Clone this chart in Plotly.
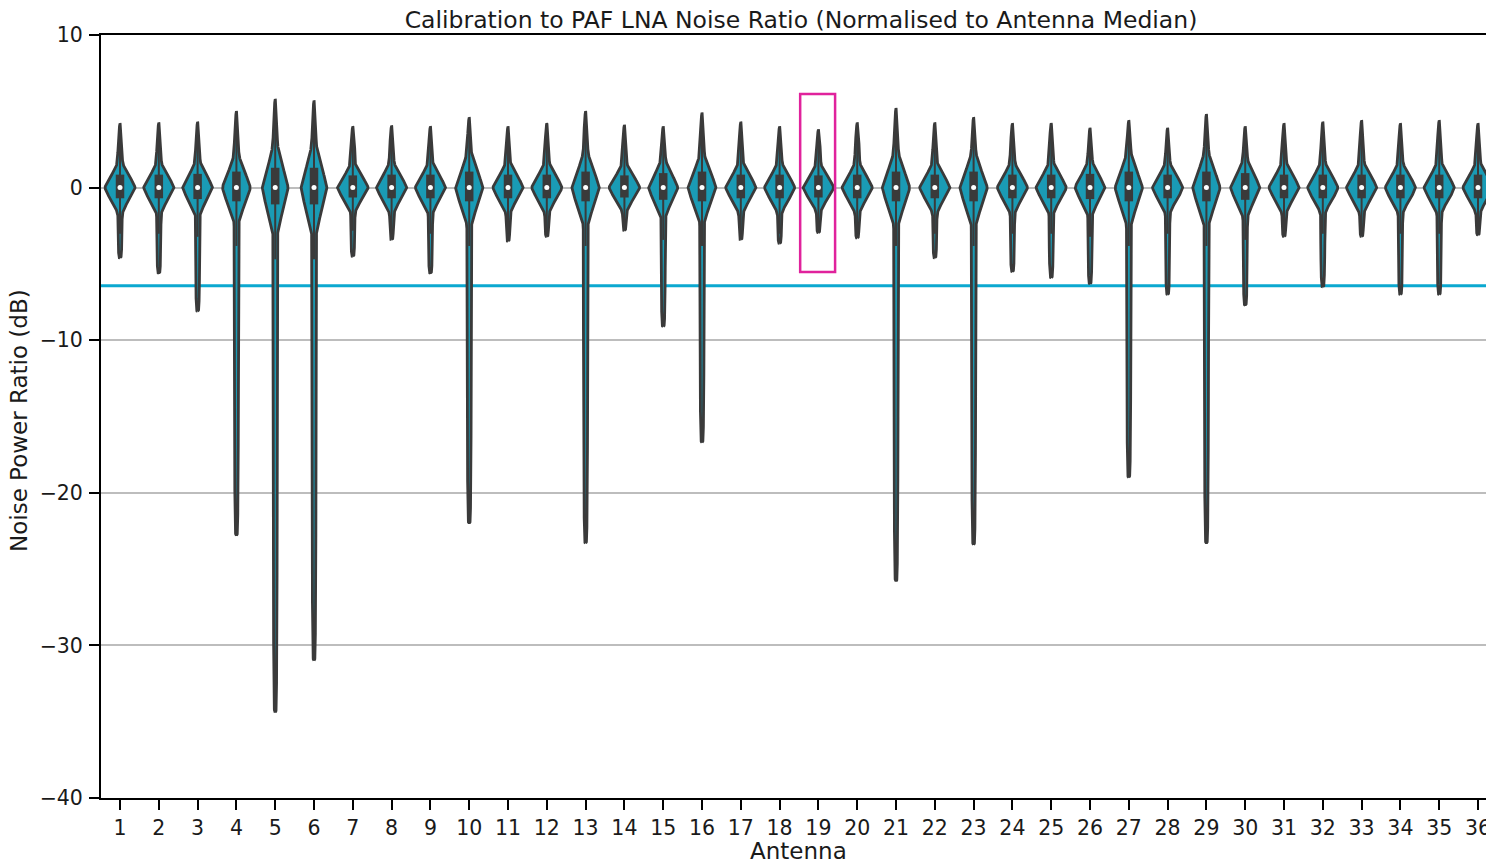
import numpy as np
import plotly.graph_objects as go

# ---------------- data ----------------
antennas = list(range(1, 37))
tick_labels = [str(a) for a in antennas]

# extent of each violin (max / min noise power ratio, dB)
upper = [4.2, 4.25, 4.3, 5.0, 5.8, 5.7, 4.0, 4.05, 4.0, 4.6, 4.0, 4.2,
         5.0, 4.1, 4.0, 4.9, 4.3, 4.0, 3.8, 4.25, 5.2, 4.25, 4.6, 4.2,
         4.2, 3.9, 4.4, 3.9, 4.8, 4.0, 4.2, 4.3, 4.4, 4.2, 4.4, 4.2]
lower = [-4.6, -5.6, -8.1, -22.8, -34.4, -31.0, -4.5, -3.4, -5.6, -22.0, -3.5, -3.2,
         -23.3, -2.8, -9.1, -16.7, -3.4, -3.65, -2.95, -3.3, -25.8, -4.6, -23.4, -5.5,
         -5.9, -6.3, -19.0, -7.0, -23.3, -7.7, -3.2, -6.5, -3.2, -7.0, -7.0, -3.1]
median = [0.0] * 36
q1 = [-0.7, -0.7, -0.75, -0.9, -1.1, -1.1, -0.65, -0.7, -0.7, -0.9, -0.7, -0.7,
      -0.9, -0.65, -0.8, -0.9, -0.7, -0.7, -0.65, -0.7, -0.9, -0.7, -0.9, -0.7,
      -0.7, -0.75, -0.9, -0.7, -0.9, -0.8, -0.7, -0.7, -0.7, -0.7, -0.7, -0.7]
q3 = [0.85, 0.85, 0.9, 1.05, 1.3, 1.3, 0.8, 0.85, 0.85, 1.05, 0.85, 0.85,
      1.05, 0.8, 0.95, 1.05, 0.85, 0.85, 0.8, 0.85, 1.05, 0.85, 1.05, 0.85,
      0.85, 0.9, 1.05, 0.85, 1.05, 0.95, 0.85, 0.85, 0.85, 0.85, 0.85, 0.85]
# width of the central body of each distribution (dB)
spread = [0.92, 0.92, 0.97, 1.25, 1.7, 1.7, 0.87, 0.92, 0.92, 1.35, 0.92, 0.92,
          1.35, 0.87, 1.05, 1.25, 0.92, 0.92, 0.87, 0.92, 1.35, 0.92, 1.35, 0.92,
          0.92, 0.97, 1.35, 0.92, 1.35, 1.05, 0.92, 0.92, 0.92, 0.92, 0.92, 0.92]

threshold_db = -6.43
highlight = 19

# ---------------- styling ----------------
FILL = "#1a9bb5"
EDGE = "#3a3a3a"
FONT = "DejaVu Sans"


def violin_outline(pos, hi, lo, med, s):
    y = np.concatenate([np.linspace(lo, med, 600), np.linspace(med, hi, 300)[1:]])
    d = y - med
    amp = 0.30 * (0.92 / s) ** 0.35
    r_up = 1.4 * s / 0.92
    r_lo = 0.9 * s / 0.92
    core = amp * np.exp(-0.5 * (d / s) ** 2) + 0.09 * np.exp(-np.abs(d) / np.where(d > 0, r_up, r_lo))
    floor = np.where(d > 0, 0.09, 0.062)
    w = np.maximum(core, floor)
    taper = np.where(
        d > 0,
        np.clip(1 - d / (hi - med), 0, 1) ** 0.6,
        np.clip(1 - d / (lo - med), 0, 1) ** 0.2,
    )
    w = w * taper
    xs = np.concatenate([pos + w, (pos - w)[::-1]])
    ys = np.concatenate([y, y[::-1]])
    return xs, ys


vx, vy = [], []
bx, by = [], []
wx, wy = [], []
for a, hi, lo, m, s, a1, a3 in zip(antennas, upper, lower, median, spread, q1, q3):
    xs, ys = violin_outline(a, hi, lo, m, s)
    vx += list(xs) + [None]
    vy += list(ys) + [None]
    bx += [a, a, None]
    by += [a1, a3, None]
    iqr = a3 - a1
    wx += [a, a, None]
    wy += [max(lo, a1 - 1.5 * iqr), min(hi, a3 + 1.5 * iqr), None]

fig = go.Figure()
fig.add_trace(go.Scatter(x=vx, y=vy, mode="lines", fill="toself", fillcolor=FILL,
                         line=dict(color=EDGE, width=2.8), hoverinfo="skip", showlegend=False))
fig.add_trace(go.Scatter(x=wx, y=wy, mode="lines", line=dict(color=EDGE, width=2),
                         hoverinfo="skip", showlegend=False))
fig.add_trace(go.Scatter(x=bx, y=by, mode="lines", line=dict(color=EDGE, width=8.5),
                         hoverinfo="skip", showlegend=False))
fig.add_trace(go.Scatter(x=antennas, y=median, mode="markers",
                         marker=dict(color="white", size=5, line=dict(width=0)),
                         hoverinfo="skip", showlegend=False))

fig.add_shape(type="line", xref="paper", x0=0, x1=1, y0=threshold_db, y1=threshold_db,
              line=dict(color="#0ba8d0", width=3), layer="below")
fig.add_shape(type="rect", x0=highlight - 0.47, x1=highlight + 0.43, y0=-5.53, y1=6.13,
              line=dict(color="#e0229c", width=2.5), layer="above")

W, H = 1486, 865
L, R, T, B = 101, 0, 35, 67
fig.update_layout(
    width=W, height=H,
    margin=dict(l=L, r=R, t=T, b=B, pad=0, autoexpand=False),
    plot_bgcolor="white", paper_bgcolor="white",
    font=dict(family=FONT, size=20.5, color="#1a1a1a"),
    title=dict(text="Calibration to PAF LNA Noise Ratio (Normalised to Antenna Median)",
               x=(801 - L) / (W - L - R), xref="paper", xanchor="center",
               y=1 - 20 / H, yref="container", yanchor="middle",
               font=dict(family=FONT, size=23.5, color="#1a1a1a")),
    xaxis=dict(range=[0.51, 36.206], tickmode="array", tickvals=antennas, ticktext=tick_labels,
               showline=True, linecolor="black", linewidth=2, mirror=True,
               ticks="outside", ticklen=10, tickwidth=2, tickcolor="black",
               showgrid=False, zeroline=False, tickfont=dict(size=20.5),
               ticklabeloverflow="allow", ticklabelstandoff=0, automargin=False),
    yaxis=dict(range=[-40, 10], tickmode="linear", tick0=-40, dtick=10,
               showline=True, linecolor="black", linewidth=2,
               ticks="outside", ticklen=10, tickwidth=2, tickcolor="black",
               showgrid=True, gridcolor="#bdbdbd", gridwidth=1.5, zeroline=False,
               tickfont=dict(size=20.5), ticklabelstandoff=2, automargin=False),
    annotations=[
        dict(text="Noise Power Ratio (dB)", textangle=-90, xref="paper", yref="paper",
             x=(19 - L) / (W - L - R), y=(798 - 421) / (798 - 35),
             xanchor="center", yanchor="middle", showarrow=False, font=dict(size=23)),
        dict(text="Antenna", xref="paper", yref="paper",
             x=(799 - L) / (W - L - R), y=(798 - 851) / (798 - 35),
             xanchor="center", yanchor="middle", showarrow=False, font=dict(size=23)),
    ],
)

fig.write_html("out.html", config={"displayModeBar": False},
               post_script="document.body.style.margin='0';")
